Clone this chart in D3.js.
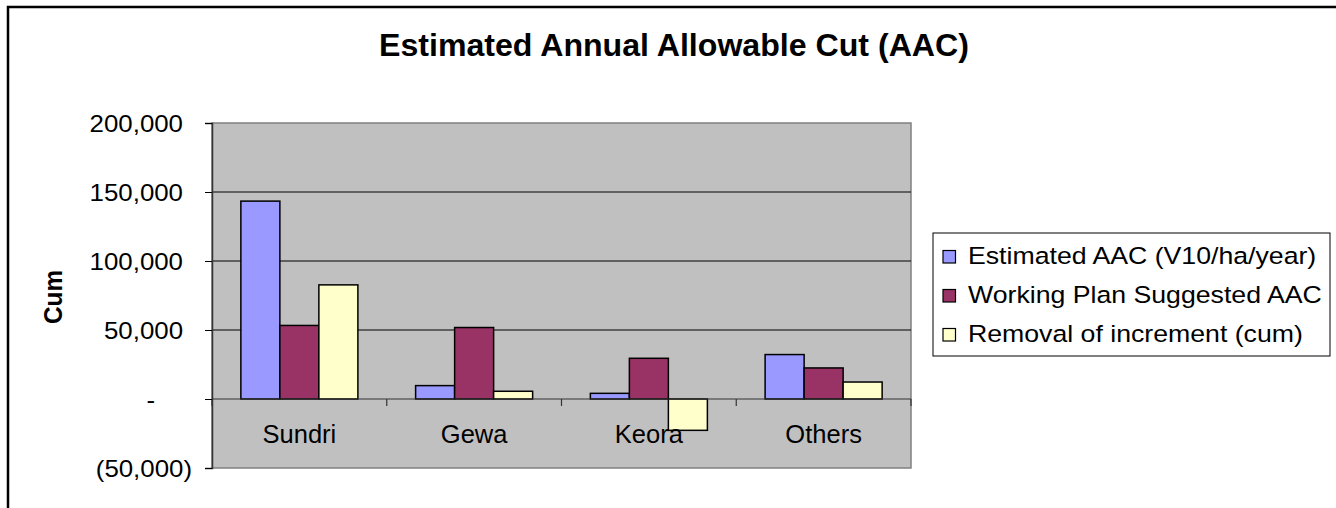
<!DOCTYPE html>
<html>
<head>
<meta charset="utf-8">
<title>Estimated Annual Allowable Cut (AAC)</title>
<script src="https://cdn.jsdelivr.net/npm/d3@7"></script>
<style>
    body { margin: 0; background: #fff; }
    svg { display: block; font-family: "Liberation Sans", Arial, sans-serif; }
</style>
</head>
<body>
<div id="chart"></div>
<script>
// Data
const categories = ['Sundri', 'Gewa', 'Keora', 'Others'];
const seriesNames = [
    'Estimated AAC (V10/ha/year)',
    'Working Plan Suggested AAC',
    'Removal of increment (cum)'
];
const estimatedAAC = [143400, 9700, 4100, 32200];
const workingPlanAAC = [53300, 51800, 29500, 22500];
const removalIncrement = [82700, 5600, -22700, 12300];
const yTicks = [-50000, 0, 50000, 100000, 150000, 200000];

const seriesValues = [estimatedAAC, workingPlanAAC, removalIncrement];
const colors = ['#9999FF', '#993366', '#FFFFCC'];

const width = 1336;
const height = 508;

const plot = { left: 212, right: 911, top: 123, bottom: 468 };

const svg = d3.select('#chart').append('svg')
    .attr('width', width)
    .attr('height', height);

// Outer chart frame (runs off the right and bottom of the picture)
svg.append('rect')
    .attr('x', 8).attr('y', 7)
    .attr('width', 1360).attr('height', 540)
    .attr('fill', '#fff')
    .attr('stroke', '#000')
    .attr('stroke-width', 2.5);

// Scales
const y = d3.scaleLinear()
    .domain([-50000, 200000])
    .range([plot.bottom, plot.top]);

const x0 = d3.scaleBand()
    .domain(categories)
    .range([plot.left, plot.right])
    .padding(0);

const x1 = d3.scaleBand()
    .domain(d3.range(seriesNames.length))
    .range([0, x0.bandwidth()])
    .paddingInner(0)
    .paddingOuter(0.74);

// Plot area background
svg.append('rect')
    .attr('x', plot.left).attr('y', plot.top)
    .attr('width', plot.right - plot.left)
    .attr('height', plot.bottom - plot.top)
    .attr('fill', '#C0C0C0')
    .attr('stroke', '#808080')
    .attr('stroke-width', 1.5);

// Gridlines
svg.append('g')
    .selectAll('line')
    .data(yTicks.filter(d => d > 0 && d < 200000))
    .join('line')
    .attr('x1', plot.left).attr('x2', plot.right)
    .attr('y1', d => y(d)).attr('y2', d => y(d))
    .attr('stroke', '#000')
    .attr('stroke-width', 1);

// Bars
const groups = svg.append('g')
    .selectAll('g')
    .data(categories)
    .join('g')
    .attr('transform', d => `translate(${x0(d)},0)`);

groups.selectAll('rect')
    .data((d, i) => seriesValues.map((vals, s) => ({ s, v: vals[i] })))
    .join('rect')
    .attr('x', d => x1(d.s))
    .attr('width', x1.bandwidth())
    .attr('y', d => y(Math.max(0, d.v)))
    .attr('height', d => Math.abs(y(d.v) - y(0)))
    .attr('fill', d => colors[d.s])
    .attr('stroke', '#000')
    .attr('stroke-width', 1.5);

// Category axis along zero
svg.append('line')
    .attr('x1', plot.left).attr('x2', plot.right)
    .attr('y1', y(0)).attr('y2', y(0))
    .attr('stroke', '#333')
    .attr('stroke-width', 1.2);

const catTicks = categories.map(c => x0(c)).concat([plot.right]);
svg.append('g')
    .selectAll('line')
    .data(catTicks)
    .join('line')
    .attr('x1', d => d).attr('x2', d => d)
    .attr('y1', y(0)).attr('y2', y(0) + 7)
    .attr('stroke', '#333')
    .attr('stroke-width', 1.2);

svg.append('g')
    .selectAll('text')
    .data(categories)
    .join('text')
    .attr('x', d => x0(d) + x0.bandwidth() / 2)
    .attr('y', 443)
    .attr('text-anchor', 'middle')
    .attr('font-size', 25.5)
    .attr('fill', '#000')
    .text(d => d);

// Value axis
const fmt = d3.format(',');
const yAxis = d3.axisLeft(y)
    .tickValues(yTicks)
    .tickSize(7)
    .tickPadding(0)
    .tickFormat(d => d === 0 ? '-' : d < 0 ? `(${fmt(-d)})` : fmt(d));

const yAxisG = svg.append('g')
    .attr('transform', `translate(${plot.left},0)`)
    .call(yAxis);

yAxisG.select('.domain')
    .attr('stroke', '#333')
    .attr('stroke-width', 1.5);

yAxisG.selectAll('.tick line')
    .attr('stroke', '#000');

yAxisG.selectAll('.tick text')
    .attr('x', 0)
    .attr('dy', '0.35em')
    .attr('font-size', 23.5)
    .attr('font-family', '"Liberation Sans", Arial, sans-serif')
    .attr('fill', '#000')
    .attr('text-anchor', 'end')
    .attr('transform', d => {
        const off = d === 0 ? -57 : d < 0 ? -20 : -29;
        return `translate(${off},0) scale(1.1,1)`;
    });

// Axis title
svg.append('text')
    .attr('transform', 'translate(62,297) scale(1.05,1) rotate(-90)')
    .attr('text-anchor', 'middle')
    .attr('font-size', 24.3)
    .attr('font-weight', 'bold')
    .text('Cum');

// Chart title
svg.append('text')
    .attr('transform', 'translate(379,56) scale(1.02,1)')
    .attr('font-size', 31.5)
    .attr('font-weight', 'bold')
    .text('Estimated Annual Allowable Cut (AAC)');

// Legend
const legend = svg.append('g');

legend.append('rect')
    .attr('x', 933).attr('y', 233)
    .attr('width', 397).attr('height', 123)
    .attr('fill', '#fff')
    .attr('stroke', '#000')
    .attr('stroke-width', 1);

const legendRow = d3.scalePoint()
    .domain(d3.range(seriesNames.length))
    .range([263.5, 341.5]);

const items = legend.selectAll('g.item')
    .data(seriesNames)
    .join('g')
    .attr('class', 'item')
    .attr('transform', (d, i) => `translate(0,${legendRow(i)})`);

items.append('rect')
    .attr('x', 943).attr('y', -13)
    .attr('width', 12.5).attr('height', 12.5)
    .attr('fill', (d, i) => colors[i])
    .attr('stroke', '#000')
    .attr('stroke-width', 1.2);

items.append('text')
    .attr('transform', 'translate(968,0) scale(1.135,1)')
    .attr('font-size', 23.5)
    .text(d => d);
</script>
</body>
</html>
